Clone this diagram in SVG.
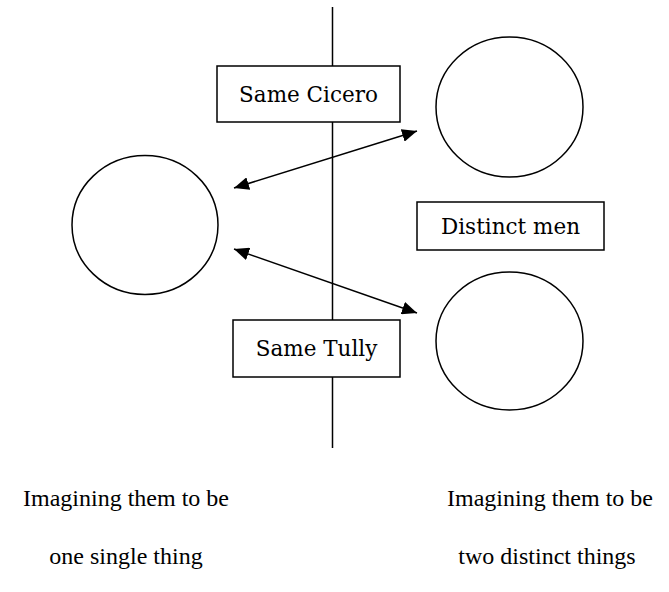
<svg xmlns="http://www.w3.org/2000/svg" width="669" height="592" viewBox="0 0 669 592">
<defs>
<marker id="ah" viewBox="0 0 10 10" refX="10" refY="5" markerWidth="15" markerHeight="13" markerUnits="userSpaceOnUse" orient="auto-start-reverse" preserveAspectRatio="none">
<path d="M0,0 L10,5 L0,10 z" fill="#000"/>
</marker>
</defs>
<style>
.shape{fill:#fff;stroke:#000;stroke-width:1.5}
.box{font-family:"DejaVu Serif","Liberation Serif",serif;font-size:21.5px;fill:#000;text-anchor:middle}
.cap{font-family:"Liberation Serif",serif;font-size:24px;fill:#000;text-anchor:middle}
.conn{stroke:#000;stroke-width:1.5;fill:none}
</style>
<g id="connectors">
<line class="conn" x1="332.5" y1="7" x2="332.5" y2="448"/>
<line class="conn" x1="234" y1="188" x2="417" y2="131" marker-start="url(#ah)" marker-end="url(#ah)"/>
<line class="conn" x1="234" y1="249" x2="417" y2="313" marker-start="url(#ah)" marker-end="url(#ah)"/>
</g>
<g id="left-circle"><ellipse class="shape" cx="145" cy="225" rx="73" ry="69.5"/></g>
<g id="top-right-circle"><ellipse class="shape" cx="509.5" cy="107" rx="73.5" ry="70"/></g>
<g id="bottom-right-circle"><ellipse class="shape" cx="509.5" cy="341" rx="73.5" ry="69"/></g>
<g id="same-cicero"><rect class="shape" x="217" y="66" width="183" height="56"/><text class="box" x="308.5" y="102">Same Cicero</text></g>
<g id="same-tully"><rect class="shape" x="233" y="320" width="167" height="57"/><text class="box" x="316.5" y="356">Same Tully</text></g>
<g id="distinct-men"><rect class="shape" x="417" y="202" width="187" height="48"/><text class="box" x="510.5" y="234">Distinct men</text></g>
<g id="captions">
<text class="cap" x="126" y="506">Imagining them to be</text>
<text class="cap" x="550" y="506">Imagining them to be</text>
<text class="cap" x="126" y="564">one single thing</text>
<text class="cap" x="547" y="564">two distinct things</text>
</g>
</svg>
